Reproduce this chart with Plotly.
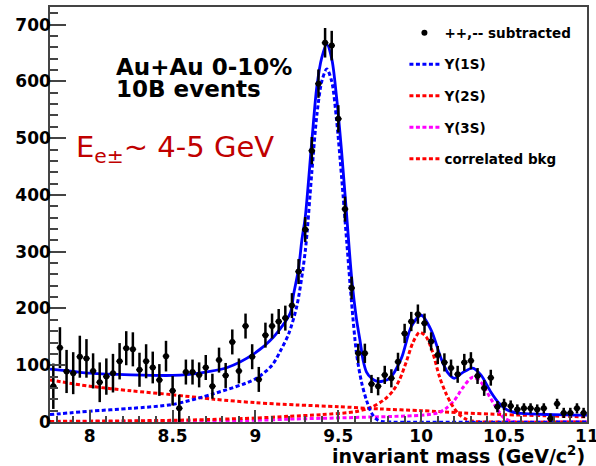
import plotly.graph_objects as go

# ---- data points (background-subtracted invariant mass spectrum) ----
mass = [7.78, 7.82, 7.86, 7.90, 7.94, 7.98, 8.02, 8.06, 8.10, 8.14,
        8.18, 8.22, 8.26, 8.30, 8.34, 8.38, 8.42, 8.46, 8.50, 8.54,
        8.58, 8.62, 8.66, 8.70, 8.74, 8.78, 8.82, 8.86, 8.90, 8.94,
        8.98, 9.02, 9.06, 9.10, 9.14, 9.18, 9.22, 9.26, 9.30, 9.34,
        9.38, 9.42, 9.46, 9.50, 9.54, 9.58, 9.62, 9.66, 9.70, 9.74,
        9.78, 9.82, 9.86, 9.90, 9.94, 9.98, 10.02, 10.06, 10.10, 10.14,
        10.18, 10.22, 10.26, 10.30, 10.34, 10.38, 10.42, 10.46, 10.50, 10.54,
        10.58, 10.62, 10.66, 10.70, 10.74, 10.78, 10.82, 10.86, 10.90, 10.94,
        10.98]
counts = [63, 131, 89, 86, 115, 112, 90, 70, 80, 86,
          107, 130, 128, 92, 107, 96, 74, 116, 55, 24,
          88, 88, 83, 96, 63, 109, 82, 141, 90, 169,
          115, 75, 153, 169, 177, 183, 205, 265, 339, 478,
          596, 668, 663, 534, 375, 236, 121, 121, 67, 63,
          83, 77, 106, 156, 177, 190, 174, 142, 118, 105,
          95, 84, 105, 108, 81, 60, 78, 27, 31, 28,
          22, 24, 24, 22, 24, 6, 32, 16, 16, 24,
          16]
errors = [40, 36, 38, 37, 37, 34, 31, 35, 32, 34,
          32, 30, 30, 30, 30, 28, 28, 27, 26, 24,
          22, 22, 22, 22, 22, 22, 22, 22, 22, 22,
          22, 22, 22, 22, 22, 22, 22, 22, 22, 24,
          25, 26, 26, 24, 22, 20, 17, 17, 16, 16,
          16, 16, 16, 17, 17, 17, 17, 16, 16, 16,
          15, 15, 15, 15, 14, 14, 14, 10, 10, 10,
          9, 9, 9, 9, 9, 9, 9, 9, 9, 9,
          9]
bin_half_width = 0.02

# ---- fit curves ----
total_x = [7.76, 7.9, 8.0, 8.25, 8.5, 8.6, 8.7, 8.83, 8.99, 9.11, 9.21, 9.23,
           9.26, 9.28, 9.30, 9.34, 9.37, 9.40, 9.43, 9.46, 9.49, 9.52, 9.55,
           9.58, 9.61, 9.63, 9.65, 9.67, 9.70, 9.74, 9.81, 9.88, 9.94, 10.0,
           10.06, 10.12, 10.16, 10.20, 10.25, 10.31, 10.36, 10.42, 10.47,
           10.52, 10.6, 10.8, 11.0]
total_y = [93, 89, 86, 83, 82, 84, 88, 96, 120, 150, 192, 225,
           270, 321, 360, 495, 590, 642, 665, 640, 570, 475, 365,
           255, 180, 145, 108, 88, 77, 71, 77, 112, 168, 188,
           162, 112, 87, 77, 87, 95, 83, 53, 33,
           21, 15, 13, 12]

y1s_x = [7.76, 8.0, 8.25, 8.5, 8.75, 9.0, 9.1, 9.15, 9.2, 9.25, 9.3, 9.34,
         9.37, 9.40, 9.43, 9.46, 9.49, 9.52, 9.55, 9.58, 9.61, 9.64, 9.67,
         9.70, 9.73, 9.76, 9.8, 11.0]
y1s_y = [13, 19, 24, 31, 50, 76, 100, 125, 155, 205, 300, 440,
         540, 600, 622, 600, 530, 430, 320, 210, 120, 70, 38,
         16, 5, 1, 0, 0]

y2s_x = [7.76, 8.2, 8.5, 8.8, 9.0, 9.2, 9.4, 9.6, 9.7, 9.78, 9.83, 9.87,
         9.91, 9.95, 9.99, 10.03, 10.07, 10.11, 10.15, 10.19, 10.23, 10.27,
         10.32, 10.4, 11.0]
y2s_y = [1, 2, 3, 5, 7, 10, 13, 18, 26, 40, 55, 75,
         106, 140, 158, 150, 122, 80, 50, 28, 13, 5,
         1, 0, 0]

y3s_x = [7.76, 8.5, 9.0, 9.2, 9.6, 10.0, 10.1, 10.15, 10.2, 10.25, 10.31,
         10.36, 10.41, 10.46, 10.50, 10.55, 10.6, 11.0]
y3s_y = [0.5, 1.5, 3, 5, 8, 12, 16, 24, 38, 60, 79,
         70, 46, 22, 7, 1, 0, 0]

bkg_x = [7.76, 8.0, 8.25, 8.5, 8.75, 9.0, 9.25, 9.5, 9.75, 10.0, 10.25,
         10.5, 10.75, 11.0]
bkg_y = [74, 63, 55, 48, 40, 34, 30, 27, 23, 20, 16,
         13, 11, 9]

legend_names = ["++,-- subtracted", "Υ(1S)", "Υ(2S)", "Υ(3S)", "correlated bkg"]
x_tick_vals = [8, 8.5, 9, 9.5, 10, 10.5, 11]
x_tick_text = ["8", "8.5", "9", "9.5", "10", "10.5", "11"]

BLUE = "#0000FF"
RED = "#FF0000"
MAGENTA = "#FF00FF"
DOT = "4px,2.5px"

fig = go.Figure()

fig.add_trace(go.Scatter(x=bkg_x, y=bkg_y, mode="lines", name=legend_names[4],
                         line=dict(color=RED, width=3, dash=DOT, shape="spline", smoothing=0.8),
                         legendgroup="g5", legendrank=5))
fig.add_trace(go.Scatter(x=y3s_x, y=y3s_y, mode="lines", name=legend_names[3],
                         line=dict(color=MAGENTA, width=3, dash=DOT, shape="spline", smoothing=0.8),
                         legendgroup="g4", legendrank=4))
fig.add_trace(go.Scatter(x=y2s_x, y=y2s_y, mode="lines", name=legend_names[2],
                         line=dict(color=RED, width=3, dash=DOT, shape="spline", smoothing=0.8),
                         legendgroup="g3", legendrank=3))
fig.add_trace(go.Scatter(x=y1s_x, y=y1s_y, mode="lines", name=legend_names[1],
                         line=dict(color=BLUE, width=3, dash=DOT, shape="spline", smoothing=0.8),
                         legendgroup="g2", legendrank=2))
fig.add_trace(go.Scatter(x=total_x, y=total_y, mode="lines", name="total fit",
                         line=dict(color=BLUE, width=2.8, shape="spline", smoothing=0.8),
                         showlegend=False))
fig.add_trace(go.Scatter(x=mass, y=counts, mode="markers", name=legend_names[0],
                         marker=dict(color="black", size=6, symbol="circle"),
                         error_y=dict(type="data", array=errors, visible=True,
                                      color="black", thickness=2.5, width=0),
                         error_x=dict(type="constant", value=bin_half_width, visible=True,
                                      color="black", thickness=1.5, width=0),
                         legendgroup="g1", legendrank=1))

tickfont = dict(family="DejaVu Sans", size=17, color="black", weight="bold")

fig.update_xaxes(range=[7.76, 11.0005], tickmode="array", tickvals=x_tick_vals,
                 ticktext=x_tick_text, ticks="inside", ticklen=12,
                 tickwidth=1.5, tickcolor="#444", showline=True, linecolor="#444",
                 linewidth=1.5, mirror=True, showgrid=False, zeroline=False,
                 tickfont=tickfont, ticklabelstandoff=-2, ticklabeloverflow="allow",
                 automargin=False,
                 minor=dict(dtick=0.1, tick0=8, ticks="inside", ticklen=6, tickcolor="#444",
                            tickwidth=1.5, showgrid=False))
fig.update_yaxes(range=[0, 731], tick0=0, dtick=100, ticks="inside", ticklen=16,
                 tickwidth=1.5, tickcolor="#444", showline=True, linecolor="#444",
                 linewidth=1.5, mirror=True, showgrid=False, zeroline=False,
                 tickfont=tickfont, ticklabelstandoff=-6, automargin=False,
                 minor=dict(dtick=20, ticks="inside", ticklen=8, tickcolor="#444",
                            tickwidth=1.5, showgrid=False))

fig.update_layout(
    width=596, height=466,
    margin=dict(l=50, r=9, t=7, b=44, autoexpand=False),
    paper_bgcolor="white", plot_bgcolor="white",
    legend=dict(x=0.66, y=0.975, xanchor="left", yanchor="top",
                bgcolor="rgba(0,0,0,0)", borderwidth=0,
                traceorder="grouped", tracegroupgap=11,
                font=dict(family="DejaVu Sans", size=13.5, color="black", weight="bold")),
    showlegend=True,
)

fig.add_annotation(x=0.120, y=0.856, xref="paper", yref="paper", xanchor="left",
                   yanchor="middle", showarrow=False, text="<b>Au+Au 0-10%</b>",
                   font=dict(family="DejaVu Sans", size=23, color="black"))
fig.add_annotation(x=0.120, y=0.803, xref="paper", yref="paper", xanchor="left",
                   yanchor="middle", showarrow=False, text="<b>10B events</b>",
                   font=dict(family="DejaVu Sans", size=23, color="black"))
fig.add_annotation(x=0.045, y=0.657, xref="paper", yref="paper", xanchor="left",
                   yanchor="middle", showarrow=False,
                   text="E<sub>e±</sub>~ 4-5 GeV",
                   font=dict(family="DejaVu Sans", size=29, color="#C00000"))
fig.add_annotation(x=1.0, y=-0.045, xref="paper", yref="paper", xanchor="right",
                   yanchor="top", showarrow=False,
                   text="<b>invariant mass (GeV/c<sup>2</sup>)</b>",
                   font=dict(family="DejaVu Sans", size=19, color="black"))

fig.write_html("out.html")
